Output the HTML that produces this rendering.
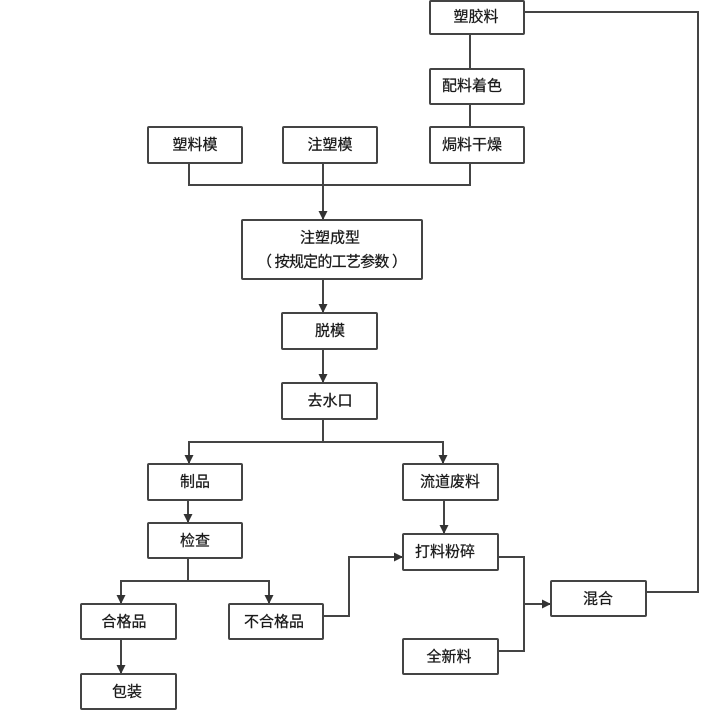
<!DOCTYPE html>
<html>
<head>
<meta charset="utf-8">
<style>
html,body{margin:0;padding:0;background:#fff;}
svg{display:block;}
text{font-family:"Liberation Sans","Noto Sans CJK SC",sans-serif;font-size:15px;fill:#1a1a1a;stroke:#1a1a1a;stroke-width:0.25;text-anchor:middle;dominant-baseline:central;}
</style>
</head>
<body>
<svg width="718" height="718" viewBox="0 0 718 718" xmlns="http://www.w3.org/2000/svg">
<defs>
<marker id="ah" markerWidth="9" markerHeight="9" refX="9" refY="4.5" orient="auto" markerUnits="userSpaceOnUse">
<path d="M0,0 L9,4.5 L0,9 Z" fill="#333"/>
</marker>
</defs>
<g fill="none" stroke="#444" stroke-width="2">
<polyline points="524,12 698,12 698,592 646,592"/>
<line x1="470" y1="34" x2="470" y2="69"/>
<line x1="470" y1="104" x2="470" y2="127"/>
<polyline points="470,163 470,185 189,185 189,163"/>
<line x1="323" y1="163" x2="323" y2="220" marker-end="url(#ah)"/>
<line x1="323" y1="279" x2="323" y2="313" marker-end="url(#ah)"/>
<line x1="323" y1="349" x2="323" y2="383" marker-end="url(#ah)"/>
<line x1="323" y1="419" x2="323" y2="442"/>
<line x1="188" y1="442" x2="444" y2="442"/>
<line x1="189" y1="442" x2="189" y2="464" marker-end="url(#ah)"/>
<line x1="443" y1="442" x2="443" y2="464" marker-end="url(#ah)"/>
<line x1="188" y1="500" x2="188" y2="523" marker-end="url(#ah)"/>
<line x1="188" y1="558" x2="188" y2="581"/>
<line x1="120" y1="581" x2="270" y2="581"/>
<line x1="121" y1="581" x2="121" y2="604" marker-end="url(#ah)"/>
<line x1="269" y1="581" x2="269" y2="604" marker-end="url(#ah)"/>
<line x1="121" y1="639" x2="121" y2="674" marker-end="url(#ah)"/>
<line x1="444" y1="500" x2="444" y2="534" marker-end="url(#ah)"/>
<polyline points="323,616 349,616 349,557 403,557" marker-end="url(#ah)"/>
<polyline points="498,557 524,557 524,651 498,651"/>
<line x1="524" y1="604" x2="551" y2="604" marker-end="url(#ah)"/>
</g>
<g fill="#fff" stroke="#444" stroke-width="2">
<rect x="430" y="1" width="94" height="33" rx="1"/>
<rect x="430" y="69" width="94" height="35" rx="1"/>
<rect x="430" y="127" width="94" height="36" rx="1"/>
<rect x="148" y="127" width="94" height="36" rx="1"/>
<rect x="283" y="127" width="94" height="36" rx="1"/>
<rect x="242" y="220" width="180" height="59" rx="1"/>
<rect x="282" y="313" width="95" height="36" rx="1"/>
<rect x="282" y="383" width="95" height="36" rx="1"/>
<rect x="148" y="464" width="94" height="36" rx="1"/>
<rect x="403" y="464" width="95" height="36" rx="1"/>
<rect x="148" y="523" width="94" height="35" rx="1"/>
<rect x="81" y="604" width="95" height="35" rx="1"/>
<rect x="229" y="604" width="94" height="35" rx="1"/>
<rect x="81" y="674" width="95" height="35" rx="1"/>
<rect x="403" y="534" width="95" height="36" rx="1"/>
<rect x="403" y="639" width="95" height="35" rx="1"/>
<rect x="551" y="581" width="95" height="35" rx="1"/>
</g>
<g>
<text x="476" y="17">塑胶料</text>
<text x="472" y="86">配料着色</text>
<text x="472" y="145">焗料干燥</text>
<text x="195" y="145">塑料模</text>
<text x="330" y="145">注塑模</text>
<text x="330" y="238">注塑成型</text>
<text x="332" y="262" textLength="150" lengthAdjust="spacing">（ 按规定的工艺参数 ）</text>
<text x="330" y="331">脱模</text>
<text x="330" y="401">去水口</text>
<text x="195" y="482">制品</text>
<text x="450" y="482">流道废料</text>
<text x="195" y="541">检查</text>
<text x="124" y="622">合格品</text>
<text x="274" y="622">不合格品</text>
<text x="127" y="692">包装</text>
<text x="445" y="552">打料粉碎</text>
<text x="449" y="657">全新料</text>
<text x="598" y="599">混合</text>
</g>
</svg>
</body>
</html>
